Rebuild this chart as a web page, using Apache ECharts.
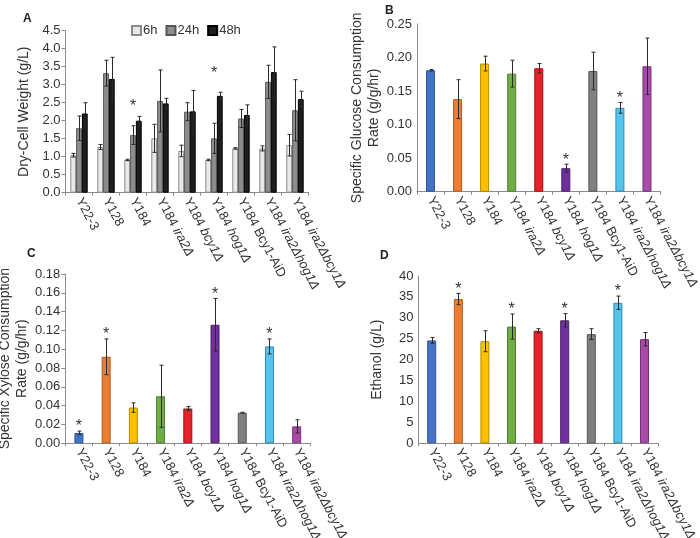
<!DOCTYPE html>
<html><head><meta charset="utf-8">
<script src="https://cdn.jsdelivr.net/npm/echarts@6/dist/echarts.min.js"></script>
<style>html,body{margin:0;padding:0;background:#fff}#c{width:700px;height:538px}</style>
</head><body><div id="c"></div><script>
const categories = ['Y22-3','Y128','Y184','Y184 ira2Δ','Y184 bcy1Δ','Y184 hog1Δ','Y184 Bcy1-AiD','Y184 ira2Δhog1Δ','Y184 ira2Δbcy1Δ'];
const timeLabels = ['6h','24h','48h'];
// Panel A: dry-cell weight (g/L)
const dcw6h     = [1.04,1.27,0.91,1.51,1.16,0.91,1.23,1.23,1.32];
const dcw6hErr  = [0.05,0.07,0.02,0.39,0.16,0.02,0.02,0.07,0.30];
const dcw24h    = [1.79,3.32,1.60,2.55,2.25,1.51,2.06,3.08,2.29];
const dcw24hErr = [0.34,0.36,0.26,0.86,0.25,0.42,0.25,0.46,0.85];
const dcw48h    = [2.20,3.16,2.00,2.48,2.26,2.69,2.16,3.35,2.60];
const dcw48hErr = [0.30,0.60,0.12,0.14,0.58,0.10,0.28,0.70,0.22];
const dcwStarLevel = [null,null,2.4,null,null,3.3,null,null,null];
// Panel B: specific glucose consumption rate (g/g/hr)
const glucoseRate  = [0.181,0.138,0.191,0.176,0.184,0.035,0.180,0.125,0.187];
const glucoseErr   = [0.001,0.029,0.011,0.020,0.007,0.006,0.028,0.008,0.042];
const glucoseStars = [0,0,0,0,0,1,0,1,0];
// Panel C: specific xylose consumption rate (g/g/hr)
const xyloseRate  = [0.011,0.092,0.038,0.050,0.037,0.126,0.0325,0.103,0.018];
const xyloseErr   = [0.002,0.019,0.005,0.033,0.002,0.028,0.0005,0.008,0.007];
const xyloseStars = [1,1,0,0,0,1,0,1,0];
// Panel D: ethanol (g/L)
const ethanol      = [24.6,34.5,24.4,27.9,26.9,29.4,26.1,33.6,24.9];
const ethanolErr   = [0.7,1.35,2.5,3.0,0.5,1.6,1.3,1.6,1.6];
const ethanolStars = [0,1,0,1,0,1,0,1,0];

const strainColors  = ['#4472C4','#ED7D31','#FFC000','#70AD47','#E8222A','#7030A0','#808080','#55C4EC','#A64CA6'];
const strainBorders = ['#2F5597','#AE5A21','#B88A00','#4F7E30','#A01010','#4A1F6B','#555555','#2E8BB0','#7A2F7A'];
const greyFills   = ['#E9E9E9','#8E8E8E','#1E1E1E'];
const greyBorders = ['#8A8A8A','#555555','#000000'];

const FONT = 'Liberation Sans, Arial, sans-serif';
const AXC = '#8a8a8a';

function catLabel(v){
  const m = v.match(/^Y184 (.+)$/);
  if (m && m[1] !== 'Bcy1-AiD') return '{n|Y184 }{i|' + m[1] + '}';
  return '{n|' + v + '}';
}

const grids = [
  {left:65.5, top:30.7, width:243, height:162, outerBoundsMode:'none', containLabel:false},
  {left:417, top:24, width:243.5, height:167.7, outerBoundsMode:'none', containLabel:false},
  {left:65.3, top:274, width:245, height:169.3, outerBoundsMode:'none', containLabel:false},
  {left:418.4, top:276, width:239.4, height:167.3, outerBoundsMode:'none', containLabel:false}
];

function xAx(gi){
  return {type:'category', gridIndex:gi, data:categories,
    axisLine:{lineStyle:{color:AXC}}, axisTick:{show:true, length:3, lineStyle:{color:AXC}},
    axisLabel:{rotate:-62, margin:6, interval:0, formatter:catLabel,
      rich:{n:{fontSize:13, fontFamily:FONT, color:'#333'}, i:{fontSize:13, fontFamily:FONT, color:'#333', fontStyle:'italic'}}}};
}
function yAx(gi, max, interval, dec, name, gap, ticks){
  return {type:'value', gridIndex:gi, min:0, max:max, interval:interval,
    name:name, nameLocation:'middle', nameGap:gap,
    nameTextStyle:{fontSize:14, fontFamily:FONT, color:'#333', lineHeight:17},
    axisLine:{show:true, lineStyle:{color:AXC}},
    axisTick:{show:ticks, length:4, lineStyle:{color:AXC}},
    splitLine:{show:false},
    axisLabel:{fontSize:13, fontFamily:FONT, color:'#333', margin:5, formatter:v=>v.toFixed(dec)}};
}

function errSeries(gi, vals, errs, offset){
  return {type:'custom', xAxisIndex:gi, yAxisIndex:gi, silent:true, z:5,
    data: vals.map((v,i)=>[i, v, errs[i]]),
    encode:{x:0, y:1},
    renderItem:(params, api)=>{
      const i = api.value(0), v = api.value(1), e = api.value(2);
      const c = api.coord([i, v]);
      const hi = api.coord([i, v+e]), lo = api.coord([i, v-e]);
      const x = Math.round(c[0] + offset) + 0.5, w = 2;
      const st = {stroke:'#2a2a2a', lineWidth:1};
      return {type:'group', children:[
        {type:'line', shape:{x1:x, y1:hi[1], x2:x, y2:lo[1]}, style:st},
        {type:'line', shape:{x1:x-w, y1:hi[1], x2:x+w, y2:hi[1]}, style:st},
        {type:'line', shape:{x1:x-w, y1:lo[1], x2:x+w, y2:lo[1]}, style:st}
      ]};
    }};
}
function starSeries(gi, pts, dy){
  return {type:'custom', xAxisIndex:gi, yAxisIndex:gi, silent:true, z:6,
    data: pts, encode:{x:0, y:1},
    renderItem:(params, api)=>{
      const p = api.coord([api.value(0), api.value(1)]);
      return {type:'text', style:{text:'*', x:p[0], y:p[1] - dy, align:'center', verticalAlign:'middle',
        fontSize:16, fontFamily:FONT, fill:'#333'}};
    }};
}
function starsFrom(vals, errs, flags){
  const out = [];
  flags.forEach((f,i)=>{ if (f) out.push([i, vals[i] + errs[i]]); });
  return out;
}
function colorBars(gi, vals){
  return {type:'bar', xAxisIndex:gi, yAxisIndex:gi, barWidth:9,
    data: vals.map((v,i)=>({value:v, itemStyle:{color:strainColors[i], borderColor:strainBorders[i], borderWidth:1}}))};
}

const A_BW = 5.8;
const dcwVals = [dcw6h, dcw24h, dcw48h];
const dcwErrs = [dcw6hErr, dcw24hErr, dcw48hErr];

const series = [];
dcwVals.forEach((vals, k)=>{
  series.push({type:'bar', name:timeLabels[k], xAxisIndex:0, yAxisIndex:0, barWidth:A_BW, barGap:'0%',
    data:vals, itemStyle:{color:greyFills[k], borderColor:greyBorders[k], borderWidth:1}});
});
dcwVals.forEach((vals, k)=>{ series.push(errSeries(0, vals, dcwErrs[k], (k-1)*A_BW)); });
series.push(starSeries(0, dcwStarLevel.map((v,i)=>[i,v]).filter(p=>p[1]!==null), 0));

series.push(colorBars(1, glucoseRate));
series.push(errSeries(1, glucoseRate, glucoseErr, 0));
series.push(starSeries(1, starsFrom(glucoseRate, glucoseErr, glucoseStars), 4));

series.push(colorBars(2, xyloseRate));
series.push(errSeries(2, xyloseRate, xyloseErr, 0));
series.push(starSeries(2, starsFrom(xyloseRate, xyloseErr, xyloseStars), 4));

series.push(colorBars(3, ethanol));
series.push(errSeries(3, ethanol, ethanolErr, 0));
series.push(starSeries(3, starsFrom(ethanol, ethanolErr, ethanolStars), 4));

const chart = echarts.init(document.getElementById('c'), null, {renderer:'canvas'});
chart.setOption({
  animation:false,
  backgroundColor:'#fff',
  textStyle:{fontFamily:FONT},
  title:[
    {text:'A', left:18, top:8, textStyle:{fontSize:12, fontWeight:'bold', fontFamily:FONT, color:'#222'}},
    {text:'B', left:380, top:0, textStyle:{fontSize:12, fontWeight:'bold', fontFamily:FONT, color:'#222'}},
    {text:'C', left:22, top:243, textStyle:{fontSize:12, fontWeight:'bold', fontFamily:FONT, color:'#222'}},
    {text:'D', left:375, top:245, textStyle:{fontSize:12, fontWeight:'bold', fontFamily:FONT, color:'#222'}}
  ],
  legend:{data:timeLabels, left:126, top:19, icon:'rect', itemWidth:9, itemHeight:9, itemGap:8,
    textStyle:{fontSize:13, fontFamily:FONT, color:'#333', padding:[0,0,0,-3]}},
  grid:grids,
  xAxis:[xAx(0), xAx(1), xAx(2), xAx(3)],
  yAxis:[
    yAx(0, 4.5, 0.5, 1, 'Dry-Cell Weight (g/L)', 33, true),
    yAx(1, 0.25, 0.05, 2, 'Specific Glucose Consumption\nRate (g/g/hr)', 30, false),
    yAx(2, 0.18, 0.02, 2, 'Specific Xylose Consumption\nRate (g/g/hr)', 33, true),
    yAx(3, 40, 5, 0, 'Ethanol (g/L)', 33, false)
  ],
  series:series
});
</script></body></html>
